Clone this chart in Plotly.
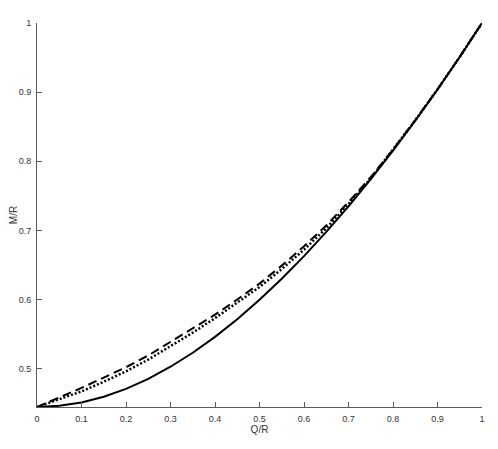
import plotly.graph_objects as go

q = [0.0, 0.05, 0.1, 0.15, 0.2, 0.25, 0.3, 0.35, 0.4, 0.45, 0.5,
     0.55, 0.6, 0.65, 0.7, 0.75, 0.8, 0.85, 0.9, 0.95, 1.0]

solid = [0.4444, 0.4461, 0.4511, 0.4593, 0.4707, 0.4852, 0.5027, 0.5229,
         0.5459, 0.5715, 0.5995, 0.6300, 0.6627, 0.6977, 0.7348, 0.7740,
         0.8153, 0.8586, 0.9038, 0.9509, 1.0]

dashed = [0.4444, 0.458, 0.472, 0.487, 0.502, 0.519, 0.539, 0.558, 0.578,
          0.600, 0.623, 0.649, 0.677, 0.707, 0.741, 0.777, 0.8168, 0.8595,
          0.904, 0.951, 1.0]

dotted = [0.4444, 0.456, 0.467, 0.481, 0.496, 0.513, 0.532, 0.552, 0.573,
          0.595, 0.618, 0.644, 0.672, 0.703, 0.738, 0.775, 0.8163, 0.8592,
          0.904, 0.951, 1.0]

x_ticks = [0, 0.1, 0.2, 0.3, 0.4, 0.5, 0.6, 0.7, 0.8, 0.9, 1]
x_labels = ["0", "0.1", "0.2", "0.3", "0.4", "0.5", "0.6", "0.7", "0.8", "0.9", "1"]
y_ticks = [0.5, 0.6, 0.7, 0.8, 0.9, 1]
y_labels = ["0.5", "0.6", "0.7", "0.8", "0.9", "1"]

fig = go.Figure()
fig.add_trace(go.Scatter(x=q, y=solid, mode="lines",
                         line=dict(color="black", width=2), showlegend=False))
fig.add_trace(go.Scatter(x=q, y=dashed, mode="lines",
                         line=dict(color="black", width=2, dash="9px,5px"), showlegend=False))
fig.add_trace(go.Scatter(x=q, y=dotted, mode="lines",
                         line=dict(color="black", width=2.5, dash="2px,2px"), showlegend=False))

axis_color = "#5a5a5a"
fig.update_layout(
    width=490, height=441,
    margin=dict(l=29, r=16, t=15, b=42, autoexpand=False),
    paper_bgcolor="white", plot_bgcolor="white",
    font=dict(family="Liberation Sans, Arial, sans-serif", size=9, color="#333333"),
    xaxis=dict(range=[0, 1], tickvals=x_ticks, ticktext=x_labels,
               ticks="inside", ticklen=5, tickcolor=axis_color, tickwidth=1,
               showline=True, linecolor=axis_color, linewidth=1,
               showgrid=False, zeroline=False, automargin=False,
               ticklabelstandoff=3,
               title=dict(text="Q/R", font=dict(size=10), standoff=1)),
    yaxis=dict(range=[4/9, 1], tickvals=y_ticks, ticktext=y_labels,
               ticks="inside", ticklen=5, tickcolor=axis_color, tickwidth=1,
               showline=True, linecolor=axis_color, linewidth=1,
               showgrid=False, zeroline=False, automargin=False,
               ticklabelstandoff=3,
               title=dict(text="M/R", font=dict(size=10), standoff=6)),
)

fig.write_html("out.html")
